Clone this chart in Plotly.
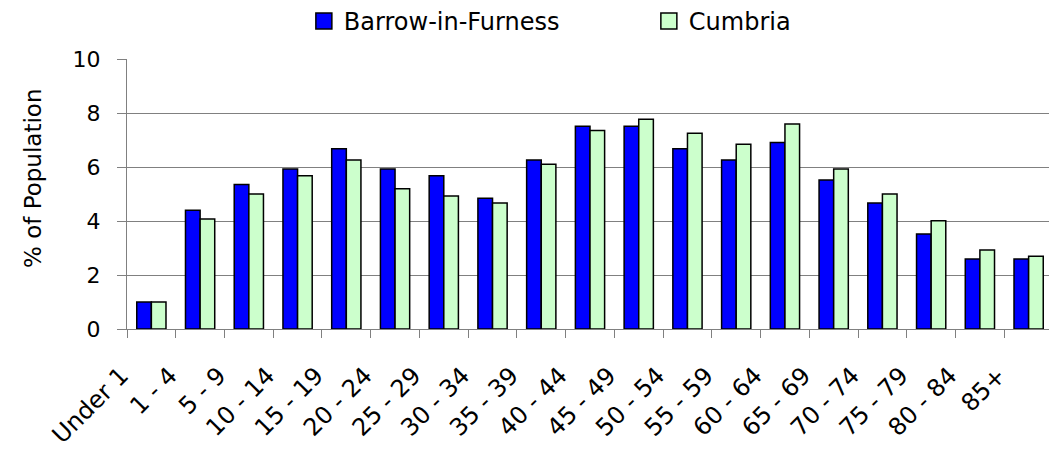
import plotly.graph_objects as go

age_groups = ["Under 1", "1 - 4", "5 - 9", "10 - 14", "15 - 19", "20 - 24", "25 - 29",
              "30 - 34", "35 - 39", "40 - 44", "45 - 49", "50 - 54", "55 - 59", "60 - 64",
              "65 - 69", "70 - 74", "75 - 79", "80 - 84", "85+"]
barrow = [1.0, 4.4, 5.35, 5.93, 6.68, 5.93, 5.68, 4.84, 6.26, 7.51, 7.51, 6.68, 6.26,
          6.91, 5.52, 4.67, 3.52, 2.59, 2.59]
cumbria = [1.0, 4.07, 5.0, 5.68, 6.26, 5.19, 4.93, 4.67, 6.1, 7.35, 7.77, 7.25, 6.84,
           7.59, 5.93, 5.0, 4.01, 2.93, 2.69]
y_ticks = [0, 2, 4, 6, 8, 10]

series = [("Barrow-in-Furness", barrow, "#0000FF"), ("Cumbria", cumbria, "#CCFFCC")]
FONT = "DejaVu Sans"

fig = go.Figure()
for name, vals, col in series:
    fig.add_trace(go.Bar(x=age_groups, y=vals, name=name, showlegend=False,
                         marker=dict(color=col, line=dict(color="black", width=1.5))))
for name, vals, col in series:
    fig.add_trace(go.Scatter(x=[None], y=[None], mode="markers", name=name,
                             marker=dict(symbol="square", size=16, color=col,
                                         line=dict(color="black", width=1.5))))

# page body has an 8px margin, so the figure is sized/offset to compensate
fig.update_layout(
    width=1049, height=443,
    margin=dict(l=119, r=4, t=51, b=122, autoexpand=False),
    paper_bgcolor="white", plot_bgcolor="white",
    font=dict(family=FONT, size=22, color="black"),
    barmode="group", bargap=0.4, bargroupgap=0,
    showlegend=True,
    legend=dict(orientation="h", x=0.191, xanchor="left", y=1.139, yanchor="middle",
                entrywidth=300, font=dict(size=24), bgcolor="rgba(0,0,0,0)"),
)
fig.update_xaxes(type="category", tickson="boundaries", ticks="outside", ticklen=8,
                 tickcolor="#808080", showline=True, linecolor="#808080", linewidth=1,
                 tickangle=-45, ticklabelshift=-30, ticklabelstandoff=22,
                 tickfont=dict(size=24),
                 showgrid=False, mirror=False, automargin=False)
fig.update_yaxes(range=[0, 10], tickvals=y_ticks, ticks="outside", ticklen=9,
                 tickcolor="#808080", showline=True, linecolor="#808080", linewidth=1,
                 mirror=True, showgrid=True, gridcolor="#808080", gridwidth=1,
                 ticklabelstandoff=12, zeroline=False, automargin=False)
fig.add_annotation(text="% of Population", xref="paper", yref="paper",
                   x=(33 - 127) / 926, y=(329 - 178) / 270, textangle=-90,
                   showarrow=False, xanchor="center", yanchor="middle",
                   font=dict(family=FONT, size=23, color="black"))

fig.write_html("out.html")
